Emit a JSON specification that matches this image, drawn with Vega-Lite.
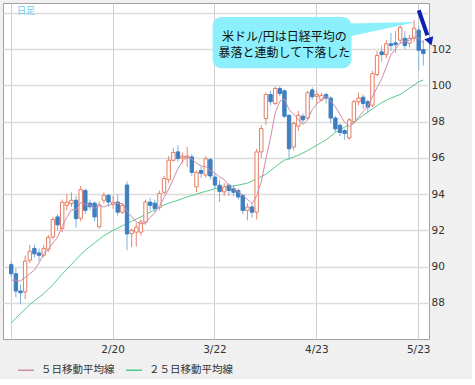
{
 "$schema": "https://vega.github.io/schema/vega-lite/v6.json",
 "width": 426, "height": 336,
 "autosize": {"type": "none"},
 "padding": {"left": 3, "top": 3, "right": 43, "bottom": 40},
 "background": "#f0f0f0",
 "config": {
  "view": {"fill": "white", "stroke": "#a0a0a0", "strokeWidth": 1},
  "axis": {"ticks": false, "domain": false, "labelColor": "#333333", "labelFontSize": 10.5, "labelFont": "DejaVu Sans", "title": null}
 },
 "title": {"text": "日足", "anchor": "start", "offset": -13, "dx": 14, "fontSize": 9, "font": "Noto Sans CJK JP", "fontWeight": "normal", "color": "#6cc8ef"},
 "datasets": {
  "px": [
   {"d":"2013-01-21","o":90.1,"h":90.3,"l":89.4,"c":89.6,"m5":89.25,"m25":86.88},
   {"d":"2013-01-22","o":89.6,"h":89.9,"l":88.3,"c":88.65,"m5":89.25,"m25":87.15},
   {"d":"2013-01-23","o":88.65,"h":89.0,"l":87.95,"c":88.55,"m5":89.2,"m25":87.4},
   {"d":"2013-01-24","o":88.6,"h":90.6,"l":88.2,"c":90.3,"m5":89.4,"m25":87.65},
   {"d":"2013-01-25","o":90.35,"h":91.2,"l":90.2,"c":90.85,"m5":89.59,"m25":87.9},
   {"d":"2013-01-28","o":91.0,"h":91.2,"l":90.5,"c":90.7,"m5":89.81,"m25":88.1},
   {"d":"2013-01-29","o":90.75,"h":91.0,"l":90.3,"c":90.62,"m5":90.2,"m25":88.3},
   {"d":"2013-01-30","o":90.62,"h":91.2,"l":90.5,"c":91.0,"m5":90.69,"m25":88.5},
   {"d":"2013-01-31","o":90.95,"h":91.75,"l":90.8,"c":91.6,"m5":90.95,"m25":88.74},
   {"d":"2013-02-01","o":91.63,"h":92.75,"l":91.5,"c":92.6,"m5":91.3,"m25":89.0},
   {"d":"2013-02-04","o":92.74,"h":92.9,"l":92.0,"c":92.3,"m5":91.62,"m25":89.3},
   {"d":"2013-02-05","o":92.1,"h":93.7,"l":91.9,"c":93.55,"m5":92.21,"m25":89.58},
   {"d":"2013-02-06","o":93.38,"h":94.0,"l":93.1,"c":93.56,"m5":92.72,"m25":89.85},
   {"d":"2013-02-07","o":93.48,"h":94.1,"l":93.3,"c":93.66,"m5":93.13,"m25":90.12},
   {"d":"2013-02-08","o":93.66,"h":93.9,"l":92.15,"c":92.64,"m5":93.14,"m25":90.4},
   {"d":"2013-02-11","o":92.66,"h":94.45,"l":92.5,"c":94.25,"m5":93.53,"m25":90.65},
   {"d":"2013-02-12","o":94.2,"h":94.3,"l":92.9,"c":93.1,"m5":93.44,"m25":90.9},
   {"d":"2013-02-13","o":93.5,"h":93.7,"l":93.1,"c":93.3,"m5":93.39,"m25":91.1},
   {"d":"2013-02-14","o":93.5,"h":93.6,"l":92.5,"c":92.74,"m5":93.21,"m25":91.3},
   {"d":"2013-02-15","o":92.2,"h":93.6,"l":92.1,"c":93.4,"m5":93.36,"m25":91.5},
   {"d":"2013-02-18","o":93.66,"h":94.1,"l":93.5,"c":93.93,"m5":93.29,"m25":91.7},
   {"d":"2013-02-19","o":93.93,"h":94.0,"l":93.3,"c":93.56,"m5":93.39,"m25":91.85},
   {"d":"2013-02-20","o":93.45,"h":93.9,"l":93.2,"c":93.55,"m5":93.44,"m25":92.0},
   {"d":"2013-02-21","o":93.56,"h":94.0,"l":92.8,"c":93.0,"m5":93.49,"m25":92.12},
   {"d":"2013-02-22","o":93.0,"h":93.5,"l":92.9,"c":93.38,"m5":93.48,"m25":92.25},
   {"d":"2013-02-25","o":94.5,"h":94.7,"l":90.9,"c":91.8,"m5":93.06,"m25":92.37},
   {"d":"2013-02-26","o":91.82,"h":92.1,"l":91.08,"c":92.0,"m5":92.75,"m25":92.5},
   {"d":"2013-02-27","o":91.9,"h":92.4,"l":91.1,"c":92.18,"m5":92.47,"m25":92.62},
   {"d":"2013-02-28","o":91.9,"h":92.6,"l":91.7,"c":92.46,"m5":92.36,"m25":92.75},
   {"d":"2013-03-01","o":92.46,"h":93.7,"l":92.3,"c":93.56,"m5":92.4,"m25":92.88},
   {"d":"2013-03-04","o":93.56,"h":93.8,"l":93.1,"c":93.38,"m5":92.72,"m25":93.0},
   {"d":"2013-03-05","o":93.5,"h":93.7,"l":93.0,"c":93.2,"m5":92.96,"m25":93.15},
   {"d":"2013-03-06","o":93.25,"h":94.2,"l":93.1,"c":94.03,"m5":93.33,"m25":93.28},
   {"d":"2013-03-07","o":94.1,"h":95.0,"l":94.0,"c":94.86,"m5":93.81,"m25":93.4},
   {"d":"2013-03-08","o":94.8,"h":96.1,"l":94.6,"c":95.87,"m5":94.27,"m25":93.5},
   {"d":"2013-03-11","o":95.87,"h":96.55,"l":95.8,"c":96.3,"m5":94.85,"m25":93.58},
   {"d":"2013-03-12","o":96.33,"h":96.7,"l":95.8,"c":95.96,"m5":95.4,"m25":93.66},
   {"d":"2013-03-13","o":96.0,"h":96.3,"l":95.7,"c":96.1,"m5":95.82,"m25":93.75},
   {"d":"2013-03-14","o":96.0,"h":96.6,"l":95.5,"c":96.1,"m5":96.07,"m25":93.85},
   {"d":"2013-03-15","o":96.05,"h":96.2,"l":95.0,"c":95.2,"m5":95.93,"m25":93.92},
   {"d":"2013-03-18","o":94.4,"h":95.3,"l":94.1,"c":95.2,"m5":95.71,"m25":94.0},
   {"d":"2013-03-19","o":95.3,"h":95.5,"l":94.9,"c":95.15,"m5":95.55,"m25":94.08},
   {"d":"2013-03-20","o":95.05,"h":96.1,"l":94.9,"c":95.95,"m5":95.52,"m25":94.15},
   {"d":"2013-03-21","o":95.9,"h":96.0,"l":94.8,"c":95.0,"m5":95.3,"m25":94.22},
   {"d":"2013-03-22","o":94.94,"h":95.1,"l":94.3,"c":94.5,"m5":95.16,"m25":94.3},
   {"d":"2013-03-25","o":94.49,"h":94.8,"l":93.56,"c":94.15,"m5":94.95,"m25":94.34},
   {"d":"2013-03-26","o":94.12,"h":94.6,"l":93.9,"c":94.39,"m5":94.8,"m25":94.38},
   {"d":"2013-03-27","o":94.49,"h":94.6,"l":93.9,"c":94.2,"m5":94.45,"m25":94.42},
   {"d":"2013-03-28","o":94.3,"h":94.5,"l":93.9,"c":94.1,"m5":94.27,"m25":94.45},
   {"d":"2013-03-29","o":94.2,"h":94.3,"l":93.7,"c":93.84,"m5":94.14,"m25":94.5},
   {"d":"2013-04-01","o":93.93,"h":94.0,"l":92.9,"c":93.1,"m5":93.93,"m25":94.55},
   {"d":"2013-04-02","o":93.1,"h":93.5,"l":92.55,"c":93.29,"m5":93.71,"m25":94.6},
   {"d":"2013-04-03","o":93.29,"h":93.5,"l":92.7,"c":93.0,"m5":93.47,"m25":94.72},
   {"d":"2013-04-04","o":93.0,"h":96.5,"l":92.6,"c":96.33,"m5":93.91,"m25":94.85},
   {"d":"2013-04-05","o":96.33,"h":97.8,"l":96.0,"c":97.62,"m5":94.67,"m25":94.97},
   {"d":"2013-04-08","o":98.17,"h":99.6,"l":97.8,"c":99.5,"m5":95.95,"m25":95.1},
   {"d":"2013-04-09","o":99.5,"h":99.7,"l":98.9,"c":99.1,"m5":97.11,"m25":95.3},
   {"d":"2013-04-10","o":99.0,"h":99.95,"l":98.9,"c":99.83,"m5":98.48,"m25":95.5},
   {"d":"2013-04-11","o":99.83,"h":99.95,"l":99.4,"c":99.55,"m5":99.12,"m25":95.7},
   {"d":"2013-04-12","o":99.7,"h":99.8,"l":98.2,"c":98.3,"m5":99.26,"m25":95.87},
   {"d":"2013-04-15","o":98.35,"h":98.4,"l":95.9,"c":96.5,"m5":98.66,"m25":95.95},
   {"d":"2013-04-16","o":96.6,"h":98.0,"l":96.4,"c":97.9,"m5":98.42,"m25":96.05},
   {"d":"2013-04-17","o":97.75,"h":98.6,"l":97.5,"c":98.35,"m5":98.12,"m25":96.15},
   {"d":"2013-04-18","o":98.3,"h":98.45,"l":97.9,"c":98.1,"m5":97.83,"m25":96.27},
   {"d":"2013-04-19","o":98.2,"h":99.7,"l":98.1,"c":99.6,"m5":98.09,"m25":96.4},
   {"d":"2013-04-22","o":99.75,"h":99.9,"l":99.2,"c":99.37,"m5":98.66,"m25":96.55},
   {"d":"2013-04-23","o":99.4,"h":99.7,"l":99.0,"c":99.5,"m5":98.98,"m25":96.7},
   {"d":"2013-04-24","o":99.2,"h":99.6,"l":99.1,"c":99.45,"m5":99.2,"m25":96.85},
   {"d":"2013-04-25","o":99.5,"h":99.6,"l":99.0,"c":99.3,"m5":99.44,"m25":97.0},
   {"d":"2013-04-26","o":99.3,"h":99.4,"l":97.9,"c":98.2,"m5":99.16,"m25":97.2},
   {"d":"2013-04-29","o":98.2,"h":98.3,"l":97.4,"c":97.6,"m5":98.81,"m25":97.4},
   {"d":"2013-04-30","o":97.8,"h":97.9,"l":97.2,"c":97.4,"m5":98.39,"m25":97.55},
   {"d":"2013-05-01","o":97.5,"h":97.6,"l":97.0,"c":97.35,"m5":97.97,"m25":97.7},
   {"d":"2013-05-02","o":97.1,"h":98.2,"l":97.0,"c":98.1,"m5":97.73,"m25":97.82},
   {"d":"2013-05-03","o":98.0,"h":99.2,"l":97.9,"c":99.1,"m5":97.91,"m25":97.95},
   {"d":"2013-05-06","o":99.1,"h":99.6,"l":98.9,"c":99.3,"m5":98.25,"m25":98.15},
   {"d":"2013-05-07","o":99.35,"h":99.5,"l":98.7,"c":99.0,"m5":98.57,"m25":98.35},
   {"d":"2013-05-08","o":99.1,"h":99.2,"l":98.5,"c":98.8,"m5":98.86,"m25":98.52},
   {"d":"2013-05-09","o":98.9,"h":100.8,"l":98.8,"c":100.65,"m5":99.37,"m25":98.7},
   {"d":"2013-05-10","o":100.6,"h":101.9,"l":100.5,"c":101.65,"m5":99.88,"m25":98.88},
   {"d":"2013-05-13","o":101.85,"h":102.2,"l":101.3,"c":101.7,"m5":100.36,"m25":99.05},
   {"d":"2013-05-14","o":101.7,"h":102.5,"l":101.5,"c":102.3,"m5":101.02,"m25":99.18},
   {"d":"2013-05-15","o":102.3,"h":102.9,"l":101.9,"c":102.2,"m5":101.7,"m25":99.3},
   {"d":"2013-05-16","o":102.35,"h":103.0,"l":101.8,"c":102.25,"m5":102.02,"m25":99.4},
   {"d":"2013-05-17","o":102.5,"h":103.4,"l":102.3,"c":103.2,"m5":102.33,"m25":99.5},
   {"d":"2013-05-20","o":102.6,"h":103.0,"l":102.0,"c":102.2,"m5":102.43,"m25":99.68},
   {"d":"2013-05-21","o":102.33,"h":102.8,"l":102.1,"c":102.6,"m5":102.49,"m25":99.85},
   {"d":"2013-05-22","o":102.6,"h":103.6,"l":102.4,"c":103.16,"m5":102.68,"m25":100.02},
   {"d":"2013-05-23","o":103.05,"h":103.3,"l":100.84,"c":101.94,"m5":102.62,"m25":100.2},
   {"d":"2013-05-24","o":101.98,"h":102.5,"l":101.1,"c":101.76,"m5":102.33,"m25":100.3}
  ],
  "box": [{"d0":"2013-03-22","d1":"2013-05-03","top":103.78,"bot":100.95}],
  "wedge": [{"d":"2013-05-02","top":103.42,"bot":102.7},{"d":"2013-05-22","top":103.5,"bot":103.48}],
  "note": [
   {"d":"2013-04-12","y":102.7,"t":"米ドル/円は日経平均の"},
   {"d":"2013-04-12","y":101.8,"t":"暴落と連動して下落した"}
  ],
  "arrow": [{"d0":"2013-05-23","d1":"2013-05-24","y0":104.15,"y1":102.77}],
  "head": [{"d":"2013-05-24","y":102.42}]
 },
 "layer": [
  {
   "data": {"name": "px"},
   "mark": {"type": "line", "strokeWidth": 1},
   "encoding": {
    "x": {"field": "d", "type": "ordinal",
     "scale": {"paddingInner": 0, "paddingOuter": 1.3, "align": 0.64},
     "axis": {"values": ["2013-01-21","2013-02-20","2013-03-22","2013-04-23","2013-05-23"],
      "labelExpr": "datum.value == '2013-01-21' ? '' : utcFormat(toDate(datum.value), '%-m/%-d')",
      "grid": true, "gridColor": "#cfcfcf", "gridWidth": 1, "labelAngle": 0, "labelPadding": 5, "bandPosition": 0.5}},
    "y": {"field": "m25", "type": "quantitative",
     "scale": {"domain": [86.0, 104.55], "nice": false, "zero": false},
     "axis": {"orient": "right", "values": [88,90,92,94,96,98,100,102,104],
      "labelExpr": "datum.value == 104 ? '' : datum.label",
      "grid": true, "gridColor": "#dcdcdc", "gridWidth": 1.5, "labelPadding": 2}},
    "color": {"datum": "２５日移動平均線", "type": "nominal",
     "scale": {"domain": ["５日移動平均線", "２５日移動平均線"], "range": ["#d08aa8", "#55c98c"]},
     "legend": {"orient": "none", "legendX": 14, "legendY": 358, "direction": "horizontal", "title": null,
      "symbolType": "stroke", "symbolSize": 256, "symbolStrokeWidth": 1.5,
      "labelFont": "Noto Sans CJK JP", "labelFontSize": 10.5, "labelColor": "#333333",
      "labelOffset": 6, "columnPadding": 8}}
   }
  },
  {
   "data": {"name": "px"},
   "mark": {"type": "rule", "strokeWidth": 1},
   "encoding": {
    "x": {"field": "d", "type": "ordinal"},
    "y": {"field": "l", "type": "quantitative"},
    "y2": {"field": "h"},
    "stroke": {"condition": {"test": "datum.c >= datum.o", "value": "#e9876f"}, "value": "#7eb2de"}
   }
  },
  {
   "data": {"name": "px"},
   "mark": {"type": "bar", "width": 3.4, "strokeWidth": 1},
   "encoding": {
    "x": {"field": "d", "type": "ordinal"},
    "y": {"field": "o", "type": "quantitative"},
    "y2": {"field": "c"},
    "fill": {"condition": {"test": "datum.c >= datum.o", "value": "#ffffff"}, "value": "#3d7fc1"},
    "stroke": {"condition": {"test": "datum.c >= datum.o", "value": "#e57c62"}, "value": "#3d7fc1"}
   }
  },
  {
   "data": {"name": "px"},
   "mark": {"type": "line", "strokeWidth": 1},
   "encoding": {
    "x": {"field": "d", "type": "ordinal"},
    "y": {"field": "m5", "type": "quantitative"},
    "color": {"datum": "５日移動平均線", "type": "nominal"}
   }
  },
  {
   "data": {"name": "wedge"},
   "mark": {"type": "area", "color": "#8bf0fb"},
   "encoding": {
    "x": {"field": "d", "type": "ordinal"},
    "y": {"field": "top", "type": "quantitative"},
    "y2": {"field": "bot"}
   }
  },
  {
   "data": {"name": "box"},
   "mark": {"type": "rect", "color": "#8bf0fb", "cornerRadius": 9},
   "encoding": {
    "x": {"field": "d0", "type": "ordinal", "bandPosition": 0},
    "x2": {"field": "d1", "bandPosition": 0},
    "y": {"field": "top", "type": "quantitative"},
    "y2": {"field": "bot"}
   }
  },
  {
   "data": {"name": "note"},
   "mark": {"type": "text", "font": "Noto Sans CJK JP", "fontSize": 12, "color": "#111111", "align": "center", "baseline": "middle"},
   "encoding": {
    "x": {"field": "d", "type": "ordinal"},
    "y": {"field": "y", "type": "quantitative"},
    "text": {"field": "t"}
   }
  },
  {
   "data": {"name": "arrow"},
   "mark": {"type": "rule", "color": "#1020b0", "strokeWidth": 4, "x2Offset": 4},
   "encoding": {
    "x": {"field": "d0", "type": "ordinal"},
    "x2": {"field": "d1"},
    "y": {"field": "y0", "type": "quantitative"},
    "y2": {"field": "y1"}
   }
  },
  {
   "data": {"name": "head"},
   "mark": {"type": "point", "shape": "triangle-down", "filled": true, "color": "#1020b0", "opacity": 1, "size": 90, "angle": -19, "xOffset": 6.8},
   "encoding": {
    "x": {"field": "d", "type": "ordinal"},
    "y": {"field": "y", "type": "quantitative"}
   }
  }
 ]
}
